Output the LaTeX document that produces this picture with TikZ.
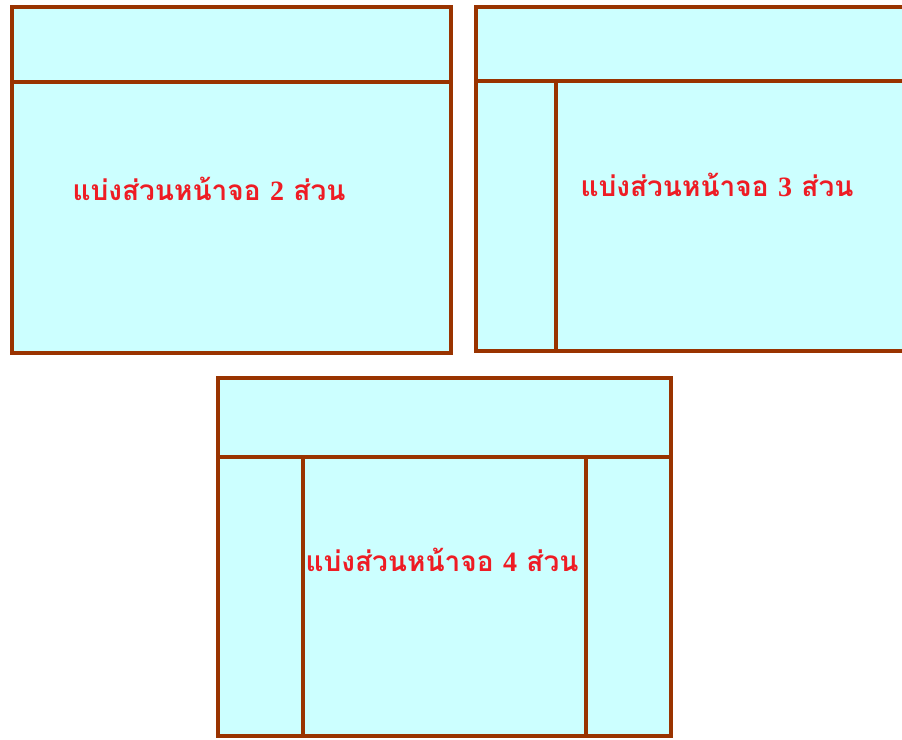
\documentclass[tikz,border=0pt]{standalone}
\usepackage{fontspec}
\newfontfamily\thaifont[Script=Thai]{Loma}
\newfontfamily\digitfont{Liberation Serif}
\usetikzlibrary{positioning}
\definecolor{panelfill}{HTML}{CCFFFF}
\definecolor{panelline}{HTML}{993300}
\definecolor{labelred}{HTML}{EE1C24}

\begin{document}
\begin{tikzpicture}[x=1pt, y=-1pt,
	panel/.style={draw=panelline, fill=panelfill, line width=3.5pt},
	divider/.style={draw=panelline, line width=3.5pt},
	label/.style={text=labelred, inner sep=0pt, font=\thaifont\bfseries\fontsize{28}{32}\selectfont}]
	\useasboundingbox (0,0) rectangle (902,739);
	\clip (0,0) rectangle (902,739);
	
	% 2 parts
	\path[panel] (12,7) rectangle (451,353);
	\draw[divider] (12,82) -- (451,82);
	\node[label] (twoParts) at (209,189) {แบ่งส่วนหน้าจอ {\digitfont 2} ส่วน};
	
	% 3 parts
	\path[panel] (476,7) rectangle (915,351);
	\draw[divider] (476,81) -- (915,81)
	(556,81) -- (556,351);
	\node[label] (threeParts) at (717,185) {แบ่งส่วนหน้าจอ {\digitfont 3} ส่วน};
	
	% 4 parts
	\path[panel] (218,378) rectangle (671,736);
	\draw[divider] (218,457) -- (671,457)
	(303,457) -- (303,736)
	(586,457) -- (586,736);
	\node[label] (fourParts) at (442,560) {แบ่งส่วนหน้าจอ {\digitfont 4} ส่วน};
	
\end{tikzpicture}
\end{document}
